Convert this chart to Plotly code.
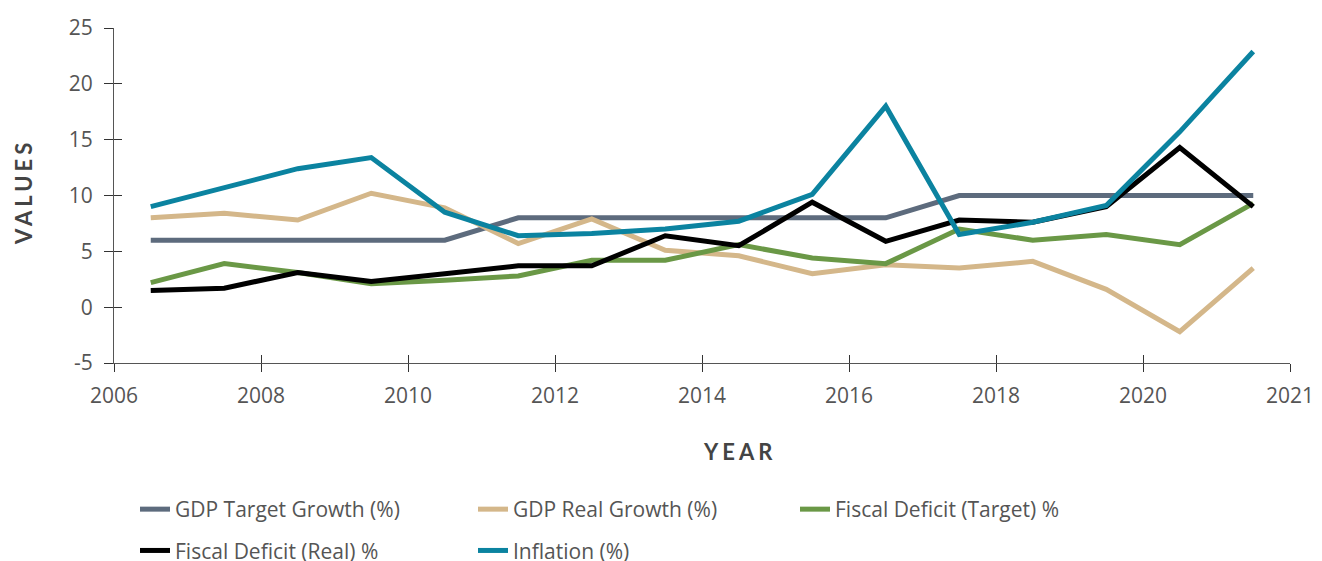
import plotly.graph_objects as go

years = list(range(2006, 2022))
gdp_target = [6, 6, 6, 6, 6, 8, 8, 8, 8, 8, 8, 10, 10, 10, 10, 10]
gdp_real = [8.0, 8.4, 7.8, 10.2, 8.9, 5.7, 7.9, 5.1, 4.6, 3.0, 3.8, 3.5, 4.1, 1.6, -2.2, 3.5]
fiscal_target = [2.2, 3.9, 3.1, 2.1, 2.4, 2.8, 4.2, 4.2, 5.6, 4.4, 3.9, 7.0, 6.0, 6.5, 5.6, 9.3]
fiscal_real = [1.5, 1.7, 3.1, 2.3, 3.0, 3.7, 3.7, 6.4, 5.5, 9.4, 5.9, 7.8, 7.6, 9.0, 14.3, 9.0]
inflation = [9.0, 10.7, 12.4, 13.4, 8.5, 6.4, 6.6, 7.0, 7.7, 10.1, 18.0, 6.5, 7.6, 9.1, 15.7, 22.9]

x_tickvals = [2006, 2008, 2010, 2012, 2014, 2016, 2018, 2020, 2022]
x_ticktext = ["2006", "2008", "2010", "2012", "2014", "2016", "2018", "2020", "2021"]
y_tickvals = [-5, 0, 5, 10, 15, 20, 25]
y_ticktext = ["-5", "0", "5", "10", "15", "20", "25"]

xpos = [y + 0.5 for y in years]

FONT = "Open Sans"
TITLE_FONT = "Lato"
TXT = "#555555"

series = [
    ("GDP Target Growth (%)", gdp_target, "#5d6b7d", "legend"),
    ("GDP Real Growth (%)", gdp_real, "#d4b78a", "legend2"),
    ("Fiscal Deficit (Target) %", fiscal_target, "#6a9846", "legend3"),
    ("Fiscal Deficit (Real) %", fiscal_real, "#000000", "legend"),
    ("Inflation (%)", inflation, "#0b83a0", "legend2"),
]

fig = go.Figure()
for i, (name, vals, color, lg) in enumerate(series):
    fig.add_trace(go.Scatter(
        x=xpos, y=vals, name=name, mode="lines",
        line=dict(color=color, width=5),
        legend=lg, legendgroup="g%d" % i,
    ))

# page offset (default body margin)
OFF = 8
W, H = 1314, 580
PL, PR, PT, PB = 114, 1290, 28, 363  # plot area edges in page pixels
L = PL - OFF
T = PT - OFF
R = W - (PR - OFF)
B = H - (PB - OFF)
pw = W - L - R
ph = H - T - B

def px_x(p):
    return (p - PL) / pw

def px_y(p):
    return (PB - p) / ph

legend_common = dict(
    orientation="v", xanchor="left", yanchor="top",
    font=dict(family=FONT, size=21, color=TXT),
    bgcolor="rgba(0,0,0,0)", borderwidth=0, tracegroupgap=11,
    traceorder="grouped",
)

fig.update_layout(
    width=W, height=H,
    margin=dict(l=L, r=R, t=T, b=B, autoexpand=False),
    paper_bgcolor="white", plot_bgcolor="white",
    font=dict(family=FONT, size=21, color=TXT),
    showlegend=True,
    legend=dict(x=px_x(135), y=px_y(489), **legend_common),
    legend2=dict(x=px_x(473), y=px_y(489), **legend_common),
    legend3=dict(x=px_x(795), y=px_y(489), **legend_common),
    xaxis=dict(
        range=[2006, 2022], tickvals=x_tickvals, ticktext=x_ticktext,
        showgrid=False, zeroline=False, showline=True, linecolor="#555555", linewidth=1,
        ticks="outside", ticklen=8, tickcolor="#333333", tickwidth=1,
        tickfont=dict(family=FONT, size=21, color=TXT),
        ticklabelstandoff=6,
    ),
    yaxis=dict(
        range=[-5, 25], tickvals=y_tickvals, ticktext=y_ticktext,
        showgrid=False, zeroline=False, showline=True, linecolor="#555555", linewidth=1,
        ticks="outside", ticklen=9, tickcolor="#333333", tickwidth=1,
        tickfont=dict(family=FONT, size=21, color=TXT),
        ticklabelstandoff=7,
    ),
    xaxis2=dict(
        overlaying="x", matches="x", range=[2006, 2022], tickvals=x_tickvals,
        showticklabels=False, showgrid=False, zeroline=False, showline=False,
        ticks="inside", ticklen=8, tickcolor="#333333", tickwidth=1,
    ),
    yaxis2=dict(
        overlaying="y", matches="y", range=[-5, 25], tickvals=y_tickvals,
        showticklabels=False, showgrid=False, zeroline=False, showline=False,
        ticks="inside", ticklen=8, tickcolor="#333333", tickwidth=1,
    ),
    annotations=[
        dict(text='<span style="letter-spacing:4px">VALUES</span>', textangle=-90,
             xref="paper", yref="paper", x=px_x(24), y=px_y(192),
             xanchor="center", yanchor="middle", showarrow=False,
             font=dict(family=TITLE_FONT, size=22, color="#444444", weight="bold")),
        dict(text='<span style="letter-spacing:4px">YEAR</span>',
             xref="paper", yref="paper", x=px_x(739), y=px_y(451),
             xanchor="center", yanchor="middle", showarrow=False,
             font=dict(family=TITLE_FONT, size=22, color="#444444", weight="bold")),
    ],
)

# invisible trace to activate the secondary (inside-tick) axes
fig.add_trace(go.Scatter(x=[2006], y=[-5], xaxis="x2", yaxis="y2", mode="markers",
                         marker=dict(opacity=0), showlegend=False, hoverinfo="skip"))

fig.write_html("out.html")
